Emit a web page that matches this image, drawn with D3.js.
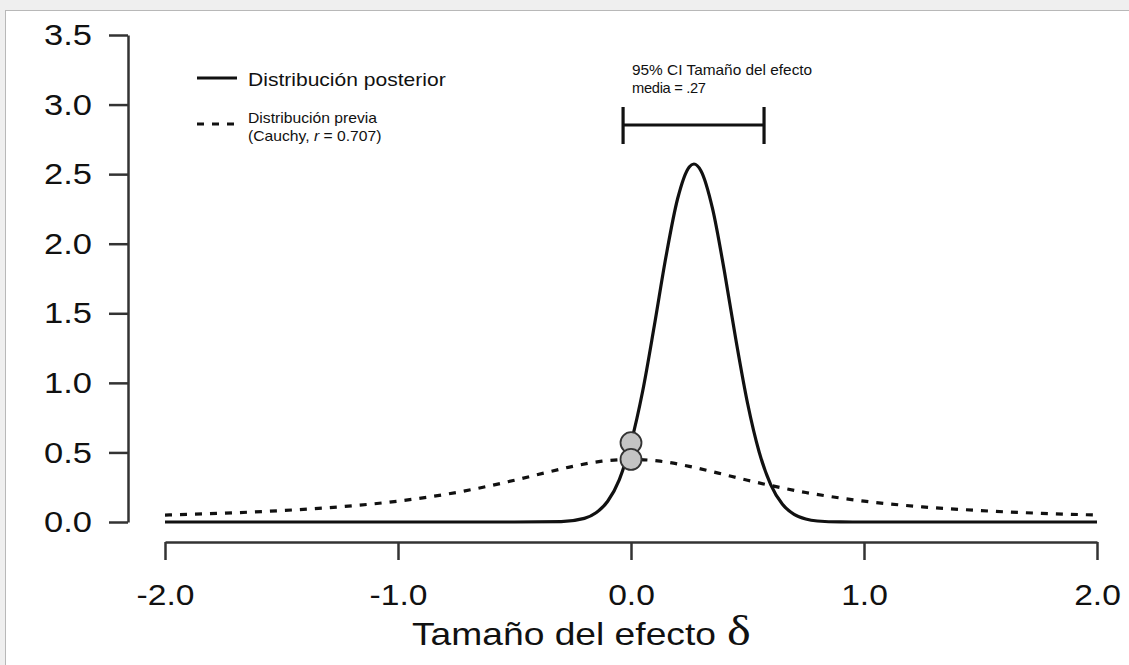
<!DOCTYPE html>
<html>
<head>
<meta charset="utf-8">
<script src="https://cdn.jsdelivr.net/npm/d3@7"></script>
<style>
  html, body { margin: 0; padding: 0; background: #efefef; }
  svg { display: block; }
</style>
</head>
<body>
<svg id="chart" width="1129" height="665"></svg>
<script>
// posterior density (solid)
const postX = [-2.0, -1.0, -0.5, -0.3, -0.2, -0.15, -0.1, -0.05, 0.0, 0.05, 0.1, 0.15, 0.2, 0.25, 0.27,
               0.3, 0.35, 0.4, 0.45, 0.5, 0.55, 0.6, 0.65, 0.7, 0.75, 0.8, 0.9, 1.0, 2.0];
const postY = [0, 0, 0, 0.003, 0.026, 0.066, 0.149, 0.305, 0.57, 0.94, 1.41, 1.906, 2.323, 2.552, 2.573,
               2.525, 2.252, 1.81, 1.311, 0.855, 0.503, 0.267, 0.127, 0.055, 0.021, 0.007, 0.0005, 0, 0];

// prior density (dashed, Cauchy r = 0.707)
const priorX = [-2.0, -1.75, -1.5, -1.25, -1.0, -0.75, -0.5, -0.375, -0.25, -0.125, 0.0,
                0.125, 0.25, 0.375, 0.5, 0.75, 1.0, 1.25, 1.5, 1.75, 2.0];
const priorY = [0.050, 0.063, 0.082, 0.109, 0.150, 0.212, 0.300, 0.351, 0.400, 0.437, 0.450,
                0.437, 0.400, 0.351, 0.300, 0.212, 0.150, 0.109, 0.082, 0.063, 0.050];

// densities at delta = 0 (grey dots)
const dotX = [0.0, 0.0];
const dotY = [0.57, 0.45];

// 95% credible interval
const ciLow = -0.034, ciHigh = 0.571;

const xTicks = [-2.0, -1.0, 0.0, 1.0, 2.0];
const yTicks = [0.0, 0.5, 1.0, 1.5, 2.0, 2.5, 3.0, 3.5];

const svg = d3.select("#chart");

// white panel
svg.append("rect")
    .attr("x", 5.5).attr("y", 10.5)
    .attr("width", 1140).attr("height", 670)
    .attr("fill", "#fff")
    .attr("stroke", "#b8b8b8");

const x = d3.scaleLinear().domain([-2, 2]).range([165, 1097]);
const y = d3.scaleLinear().domain([0, 3.5]).range([522, 35]);

const axisColor = "#333";
const font = "'Liberation Sans', Arial, sans-serif";
const fmt = d => d.toFixed(1);   // plain hyphen, like the original

// y axis
const gy = svg.append("g")
    .attr("transform", "translate(128,0)")
    .call(d3.axisLeft(y).tickValues(yTicks).tickSize(19).tickSizeOuter(0).tickFormat(fmt));
gy.select(".domain").attr("stroke", axisColor).attr("stroke-width", 2.5);
gy.selectAll(".tick line").attr("stroke", axisColor).attr("stroke-width", 2.5);
gy.selectAll(".tick text")
    .attr("x", 0)
    .attr("transform", "translate(-36,0) scale(1.15,1)")
    .attr("fill", "#111")
    .style("font-family", font)
    .style("font-size", "30px");

// x axis
const gx = svg.append("g")
    .attr("transform", "translate(0,542)")
    .call(d3.axisBottom(x).tickValues(xTicks).tickSize(18).tickSizeOuter(0).tickFormat(fmt));
gx.select(".domain").attr("stroke", axisColor).attr("stroke-width", 2.5);
gx.selectAll(".tick line").attr("stroke", axisColor).attr("stroke-width", 2.5);
gx.selectAll(".tick text")
    .attr("y", 0).attr("dy", 0)
    .attr("transform", "translate(0,63) scale(1.12,1)")
    .attr("fill", "#111")
    .style("font-family", font)
    .style("font-size", "30px");

// axis title
svg.append("text")
    .attr("transform", "translate(412,645) scale(1.2,1)")
    .attr("fill", "#111")
    .style("font-family", font)
    .style("font-size", "31px")
    .text("Tamaño del efecto ");
svg.append("text")
    .attr("transform", "translate(727,645) scale(1.2,1)")
    .attr("fill", "#111")
    .style("font-family", "'Liberation Serif', 'DejaVu Serif', serif")
    .style("font-size", "42px")
    .text("δ");

// curves
const line = d3.line()
    .x(d => x(d[0]))
    .y(d => y(d[1]))
    .curve(d3.curveMonotoneX);

svg.append("path")
    .datum(priorX.map((v, i) => [v, priorY[i]]))
    .attr("d", line)
    .attr("fill", "none")
    .attr("stroke", "#111")
    .attr("stroke-width", 3.2)
    .attr("stroke-dasharray", "7,8");

svg.append("path")
    .datum(postX.map((v, i) => [v, postY[i]]))
    .attr("d", line)
    .attr("fill", "none")
    .attr("stroke", "#111")
    .attr("stroke-width", 3.2);

// dots at zero
svg.selectAll("circle.dot")
    .data(dotX.map((v, i) => [v, dotY[i]]))
    .enter().append("circle")
    .attr("class", "dot")
    .attr("cx", d => x(d[0]))
    .attr("cy", d => y(d[1]))
    .attr("r", 10.5)
    .attr("fill", "#c4c4c4")
    .attr("stroke", "#333")
    .attr("stroke-width", 1.8);

// credible interval bar
const ci = svg.append("g").attr("stroke", "#111").attr("stroke-width", 3.2);
ci.append("line").attr("x1", x(ciLow)).attr("x2", x(ciHigh)).attr("y1", 125).attr("y2", 125);
ci.append("line").attr("x1", x(ciLow)).attr("x2", x(ciLow)).attr("y1", 107).attr("y2", 144);
ci.append("line").attr("x1", x(ciHigh)).attr("x2", x(ciHigh)).attr("y1", 107).attr("y2", 144);

svg.append("text")
    .attr("transform", "translate(632,75) scale(1.1,1)")
    .attr("fill", "#111")
    .style("font-family", font)
    .style("font-size", "14px")
    .text("95% CI Tamaño del efecto");
svg.append("text")
    .attr("transform", "translate(632,93) scale(1.05,1)")
    .attr("fill", "#111")
    .style("font-family", font)
    .style("font-size", "14px")
    .style("letter-spacing", "-0.3px")
    .text("media = .27");

// legend
const lg = svg.append("g");
lg.append("line")
    .attr("x1", 197).attr("x2", 237).attr("y1", 78).attr("y2", 78)
    .attr("stroke", "#111").attr("stroke-width", 3.2);
lg.append("text")
    .attr("transform", "translate(248,86) scale(1.17,1)")
    .attr("fill", "#111")
    .style("font-family", font)
    .style("font-size", "18px")
    .text("Distribución posterior");
lg.append("line")
    .attr("x1", 197).attr("x2", 235).attr("y1", 124).attr("y2", 124)
    .attr("stroke", "#111").attr("stroke-width", 3.2)
    .attr("stroke-dasharray", "7,8");
lg.append("text")
    .attr("transform", "translate(248,123) scale(1.12,1)")
    .attr("fill", "#111")
    .style("font-family", font)
    .style("font-size", "14px")
    .text("Distribución previa");
const l2 = lg.append("text")
    .attr("transform", "translate(248,141) scale(1.12,1)")
    .attr("fill", "#111")
    .style("font-family", font)
    .style("font-size", "14px");
l2.append("tspan").text("(Cauchy, ");
l2.append("tspan").style("font-style", "italic").text("r");
l2.append("tspan").text(" = 0.707)");
</script>
</body>
</html>
